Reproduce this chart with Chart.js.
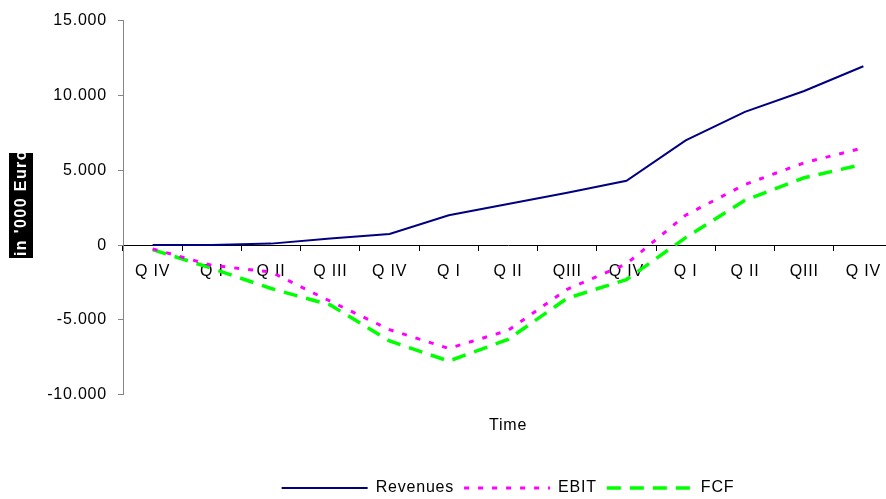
<!DOCTYPE html>
<html>
<head>
<meta charset="utf-8">
<style>
  html, body { margin:0; padding:0; background:#fff; overflow:hidden; }
  #wrap { width:900px; height:510px; }
</style>
</head>
<body>
<div id="wrap"><canvas id="chart" width="900" height="510"></canvas></div>
<script src="https://cdn.jsdelivr.net/npm/chart.js@4"></script>
<script>
/* ---------- Data ---------- */
const quarters = ['Q IV','Q I','Q II','Q III','Q IV','Q I','Q II','QIII','Q IV','Q I','Q II','QIII','Q IV'];
const revenues = [0, 0, 100, 450, 750, 2000, 2750, 3500, 4300, 7000, 8900, 10300, 11950];
const ebit     = [-250, -1350, -1800, -3750, -5650, -6900, -5700, -2950, -1250, 2000, 4050, 5500, 6500];
const fcf      = [-300, -1550, -2900, -4000, -6400, -7750, -6300, -3550, -2300, 500, 3000, 4500, 5400];
const yTicks   = { min:-10000, max:15000, step:5000 };

const FONT = 'Liberation Sans, Arial, sans-serif';
const fmt  = (v)=> v === 0 ? '0' : new Intl.NumberFormat('de-DE').format(v);

Chart.defaults.font.family = FONT;
Chart.defaults.font.size = 16;
Chart.defaults.color = '#000';

/* Excel renders text a bit wider */
const spacing = {
  id: 'spacing',
  beforeUpdate(c){ c.ctx.letterSpacing = '0.8px'; },
  beforeDraw(c){ c.ctx.letterSpacing = '0.8px'; }
};

/* rotated y title with black background, clipped like the original */
const yTitle = {
  id: 'yTitle',
  afterDraw(c){
    const ctx = c.ctx;
    ctx.save();
    ctx.fillStyle = '#000';
    ctx.fillRect(9, 153, 24, 105);
    ctx.beginPath(); ctx.rect(9, 153, 24, 105); ctx.clip();
    ctx.translate(21, 256);
    ctx.rotate(-Math.PI/2);
    ctx.letterSpacing = '1.4px';
    ctx.font = `bold 16px ${FONT}`;
    ctx.fillStyle = '#fff';
    ctx.textAlign = 'left';
    ctx.textBaseline = 'middle';
    ctx.fillText("in '000 Euro", 0, 1);
    ctx.restore();
  }
};

/* legend samples keep the dataset's own dash */
const legendLabels = (chart)=>
  Chart.defaults.plugins.legend.labels.generateLabels(chart).map((l)=>{
    const ds = chart.data.datasets[l.datasetIndex];
    return { ...l, lineDash: ds.borderDash || [], lineWidth: ds.borderWidth, strokeStyle: ds.borderColor };
  });

new Chart(document.getElementById('chart'), {
  type: 'line',
  data: {
    labels: quarters,
    datasets: [
      { label:'Revenues', data:revenues, borderColor:'#000080', backgroundColor:'#000080',
        borderWidth:2, pointRadius:0, tension:0 },
      { label:'EBIT', data:ebit, borderColor:'#ff00ff', backgroundColor:'#ff00ff',
        borderWidth:3, borderDash:[5,9], pointRadius:0, tension:0 },
      { label:'FCF', data:fcf, borderColor:'#00ff00', backgroundColor:'#00ff00',
        borderWidth:3.5, borderDash:[14,9], pointRadius:0, tension:0 }
    ]
  },
  options: {
    responsive: false,
    animation: false,
    layout: { padding: { left:0, top:17, right:7, bottom:4 } },
    plugins: {
      tooltip: { enabled:false },
      title: {
        display: true, text: 'Time', position: 'bottom', fullSize: false, weight: 500,
        padding: { top:21, bottom:35 }, font: { size:16, weight:'normal' }, color:'#000'
      },
      legend: {
        position: 'bottom', fullSize: false,
        labels: { usePointStyle:true, pointStyle:'line', pointStyleWidth:86, boxHeight:16,
                  padding:10, font:{ size:16 }, color:'#000', generateLabels: legendLabels }
      }
    },
    scales: {
      x: {
        type: 'category',
        position: { y: 0 },
        offset: true,
        grid: { offset:true, drawOnChartArea:false, tickLength:5, color:'#000' },
        border: { color:'#000', width:1 },
        ticks: { padding:12, autoSkip:false, maxRotation:0, font:{ size:16 }, color:'#000' }
      },
      y: {
        position: 'left',
        min: yTicks.min, max: yTicks.max,
        grid: { drawOnChartArea:false, tickLength:5, color:'#868686' },
        border: { color:'#868686', width:1 },
        ticks: { stepSize:yTicks.step, padding:11, font:{ size:16 }, color:'#000', callback:(v)=>fmt(v) },
        afterFit: (s)=>{ s.width = 123; }
      }
    }
  },
  plugins: [spacing, yTitle]
});
</script>
</body>
</html>
